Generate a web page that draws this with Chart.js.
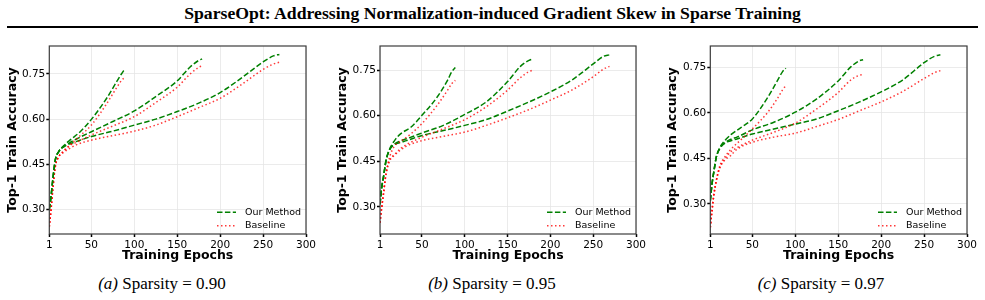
<!DOCTYPE html>
<html>
<head>
<meta charset="utf-8">
<script src="https://cdn.jsdelivr.net/npm/chart.js@4.4.1/dist/chart.umd.min.js"></script>
<style>
  body { margin: 0; background: #fff; width: 985px; height: 300px; overflow: hidden; position: relative; font-family: "Liberation Serif", serif; }
  #title { position: absolute; left: 0; top: 3px; width: 985px; text-align: center; font-weight: bold; font-size: 17.7px; line-height: 20px; }
  #rule { position: absolute; left: 7px; top: 25.5px; width: 971px; height: 2px; background: #000; }
  .panel { position: absolute; top: 30px; }
  .cap { position: absolute; top: 274px; width: 330px; text-align: center; font-size: 17px; line-height: 20px; }
</style>
</head>
<body>
<div id="title">SparseOpt: Addressing Normalization-induced Gradient Skew in Sparse Training</div>
<div id="rule"></div>
<canvas id="c0" class="panel" width="320" height="236" style="left:0px"></canvas>
<canvas id="c1" class="panel" width="320" height="236" style="left:330px"></canvas>
<canvas id="c2" class="panel" width="320" height="236" style="left:660px"></canvas>
<div class="cap" style="left:-3px"><i>(a)</i> Sparsity = 0.90</div>
<div class="cap" style="left:327px"><i>(b)</i> Sparsity = 0.95</div>
<div class="cap" style="left:656px"><i>(c)</i> Sparsity = 0.97</div>
<script>
// ---- data ----
const xTicks = [1, 50, 100, 150, 200, 250, 300];
const yTicks = [0.30, 0.45, 0.60, 0.75];
const runLabels = ["Our Method", "Baseline"];

const epochs90 = [1, 3, 5, 8, 12, 18, 25, 37, 50, 68, 80, 85, 89];
const epochs180 = [1, 3, 5, 8, 12, 18, 25, 32, 50, 75, 100, 125, 150, 165, 175, 179];
const epochs270 = [1, 3, 5, 8, 12, 18, 25, 32, 50, 75, 100, 125, 150, 175, 200, 225, 250, 262, 269];

// (a) sparsity 0.90
const oursA90  = [0.300, 0.342, 0.397, 0.464, 0.492, 0.512, 0.530, 0.558, 0.599, 0.670, 0.727, 0.750, 0.767];
const baseA90  = [0.242, 0.298, 0.364, 0.442, 0.475, 0.495, 0.514, 0.545, 0.580, 0.652, 0.707, 0.728, 0.739];
const oursA180 = [0.300, 0.342, 0.397, 0.464, 0.492, 0.510, 0.522, 0.533, 0.558, 0.592, 0.627, 0.675, 0.727, 0.773, 0.795, 0.800];
const baseA180 = [0.242, 0.298, 0.364, 0.442, 0.475, 0.493, 0.512, 0.522, 0.547, 0.577, 0.608, 0.655, 0.706, 0.750, 0.772, 0.777];
const oursA270 = [0.300, 0.342, 0.397, 0.464, 0.492, 0.508, 0.518, 0.525, 0.542, 0.560, 0.580, 0.600, 0.625, 0.653, 0.688, 0.737, 0.790, 0.810, 0.815];
const baseA270 = [0.242, 0.298, 0.364, 0.442, 0.475, 0.490, 0.503, 0.514, 0.530, 0.545, 0.560, 0.580, 0.608, 0.638, 0.669, 0.715, 0.765, 0.783, 0.789];

// (b) sparsity 0.95
const oursB90  = [0.309, 0.364, 0.397, 0.452, 0.489, 0.518, 0.540, 0.562, 0.601, 0.662, 0.717, 0.745, 0.758];
const baseB90  = [0.248, 0.298, 0.342, 0.408, 0.462, 0.500, 0.515, 0.540, 0.574, 0.635, 0.684, 0.706, 0.716];
const oursB180 = [0.309, 0.364, 0.397, 0.452, 0.487, 0.507, 0.517, 0.524, 0.543, 0.568, 0.604, 0.645, 0.712, 0.762, 0.782, 0.786];
const baseB180 = [0.248, 0.298, 0.342, 0.408, 0.452, 0.472, 0.492, 0.505, 0.529, 0.557, 0.587, 0.629, 0.684, 0.725, 0.745, 0.749];
const oursB270 = [0.309, 0.364, 0.397, 0.452, 0.487, 0.505, 0.512, 0.518, 0.535, 0.551, 0.568, 0.587, 0.615, 0.645, 0.678, 0.717, 0.770, 0.795, 0.800];
const baseB270 = [0.248, 0.298, 0.342, 0.408, 0.450, 0.470, 0.487, 0.500, 0.518, 0.532, 0.546, 0.568, 0.593, 0.620, 0.651, 0.684, 0.728, 0.753, 0.762];

// (c) sparsity 0.97
const oursC90  = [0.311, 0.366, 0.404, 0.454, 0.485, 0.509, 0.528, 0.552, 0.580, 0.651, 0.710, 0.735, 0.747];
const baseC90  = [0.223, 0.278, 0.327, 0.377, 0.425, 0.455, 0.480, 0.512, 0.547, 0.602, 0.651, 0.675, 0.690];
const oursC180 = [0.311, 0.366, 0.404, 0.454, 0.482, 0.502, 0.513, 0.520, 0.544, 0.569, 0.602, 0.646, 0.705, 0.752, 0.772, 0.775];
const baseC180 = [0.223, 0.278, 0.327, 0.377, 0.420, 0.448, 0.472, 0.485, 0.510, 0.536, 0.566, 0.613, 0.667, 0.709, 0.724, 0.726];
const oursC270 = [0.311, 0.366, 0.404, 0.454, 0.482, 0.500, 0.508, 0.514, 0.530, 0.547, 0.563, 0.580, 0.607, 0.636, 0.669, 0.708, 0.765, 0.786, 0.791];
const baseC270 = [0.223, 0.278, 0.327, 0.377, 0.418, 0.445, 0.460, 0.480, 0.503, 0.520, 0.533, 0.555, 0.578, 0.607, 0.636, 0.670, 0.713, 0.732, 0.739];

// ---- layout per panel (canvas id, y-axis width, right pad, y limits) ----
const panels = [
  { id: "c0", yWidth: 49.3, padRight: 14, yMin: 0.218, yMax: 0.843,
    ours: [oursA90, oursA180, oursA270], base: [baseA90, baseA180, baseA270] },
  { id: "c1", yWidth: 50, padRight: 14, yMin: 0.211, yMax: 0.829,
    ours: [oursB90, oursB180, oursB270], base: [baseB90, baseB180, baseB270] },
  { id: "c2", yWidth: 50.3, padRight: 13, yMin: 0.201, yMax: 0.820,
    ours: [oursC90, oursC180, oursC270], base: [baseC90, baseC180, baseC270] }
];
const runEpochs = [epochs90, epochs180, epochs270];

const OURS_COLOR = "#008000";
const BASE_COLOR = "rgba(255,0,0,0.78)";

function toPoints(xs, ys) {
  return xs.map((x, i) => ({ x, y: ys[i] }));
}

function makeDatasets(p) {
  const sets = [];
  runEpochs.forEach((ep, r) => {
    sets.push({
      label: runLabels[0], data: toPoints(ep, p.ours[r]),
      borderColor: OURS_COLOR, borderWidth: 1.5, borderDash: [5.5, 2.4]
    });
    sets.push({
      label: runLabels[1], data: toPoints(ep, p.base[r]),
      borderColor: BASE_COLOR, borderWidth: 1.5, borderDash: [1.5, 2.5]
    });
  });
  return sets;
}

// frame + in-axes legend (bottom right)
const frameLegend = {
  id: "frameLegend",
  afterDraw(chart) {
    const { ctx, chartArea: a } = chart;
    ctx.save();
    ctx.strokeStyle = "#3c3c3c";
    ctx.lineWidth = 1.2;
    ctx.strokeRect(a.left, a.top, a.right - a.left, a.bottom - a.top);

    const seen = [];
    chart.data.datasets.forEach(d => { if (!seen.find(s => s.label === d.label)) seen.push(d); });
    ctx.font = '9.5px "DejaVu Sans"';
    ctx.textBaseline = "middle";
    seen.forEach((d, i) => {
      const y = a.bottom - 21.8 + i * 13.6;
      const x0 = a.right - 89;
      ctx.beginPath();
      ctx.setLineDash(d.borderDash);
      ctx.strokeStyle = d.borderColor;
      ctx.lineWidth = d.borderWidth;
      ctx.moveTo(x0, y);
      ctx.lineTo(x0 + 19, y);
      ctx.stroke();
      ctx.setLineDash([]);
      ctx.fillStyle = "#000";
      ctx.fillText(d.label, x0 + 28, y);
    });
    ctx.restore();
  }
};

const tickFont = { family: "DejaVu Sans", size: 10.5 };
const titleFont = { family: "DejaVu Sans", size: 12.5, weight: "bold" };
const gridOpts = { color: "#e6e6e6", lineWidth: 0.8, tickColor: "#000", tickWidth: 1.5, tickLength: 3 };

panels.forEach(p => {
  new Chart(document.getElementById(p.id), {
    type: "line",
    data: { datasets: makeDatasets(p) },
    options: {
      responsive: false,
      animation: false,
      layout: { padding: { left: 0, right: p.padRight, top: 16, bottom: 0 } },
      elements: { point: { radius: 0 }, line: { cubicInterpolationMode: "monotone", fill: false } },
      plugins: { legend: { display: false }, tooltip: { enabled: false } },
      scales: {
        x: {
          type: "linear", min: 1, max: 300,
          afterBuildTicks: s => { s.ticks = xTicks.map(v => ({ value: v })); },
          afterFit: s => { s.height = 32; },
          grid: gridOpts,
          border: { display: false },
          ticks: { font: tickFont, color: "#000", padding: 1.5, maxRotation: 0, autoSkip: false, callback: v => String(v) },
          title: { display: true, text: "Training Epochs", font: titleFont, color: "#000", padding: { top: 0, bottom: 2.5 } }
        },
        y: {
          type: "linear", min: p.yMin, max: p.yMax,
          afterBuildTicks: s => { s.ticks = yTicks.map(v => ({ value: v })); },
          afterFit: s => { s.width = p.yWidth; },
          grid: gridOpts,
          border: { display: false },
          ticks: { font: tickFont, color: "#000", padding: 1, autoSkip: false, callback: v => v.toFixed(2) },
          title: { display: true, text: "Top-1 Train Accuracy", font: titleFont, color: "#000", padding: { top: 5.5, bottom: 0 } }
        }
      }
    },
    plugins: [frameLegend]
  });
});
</script>
</body>
</html>
